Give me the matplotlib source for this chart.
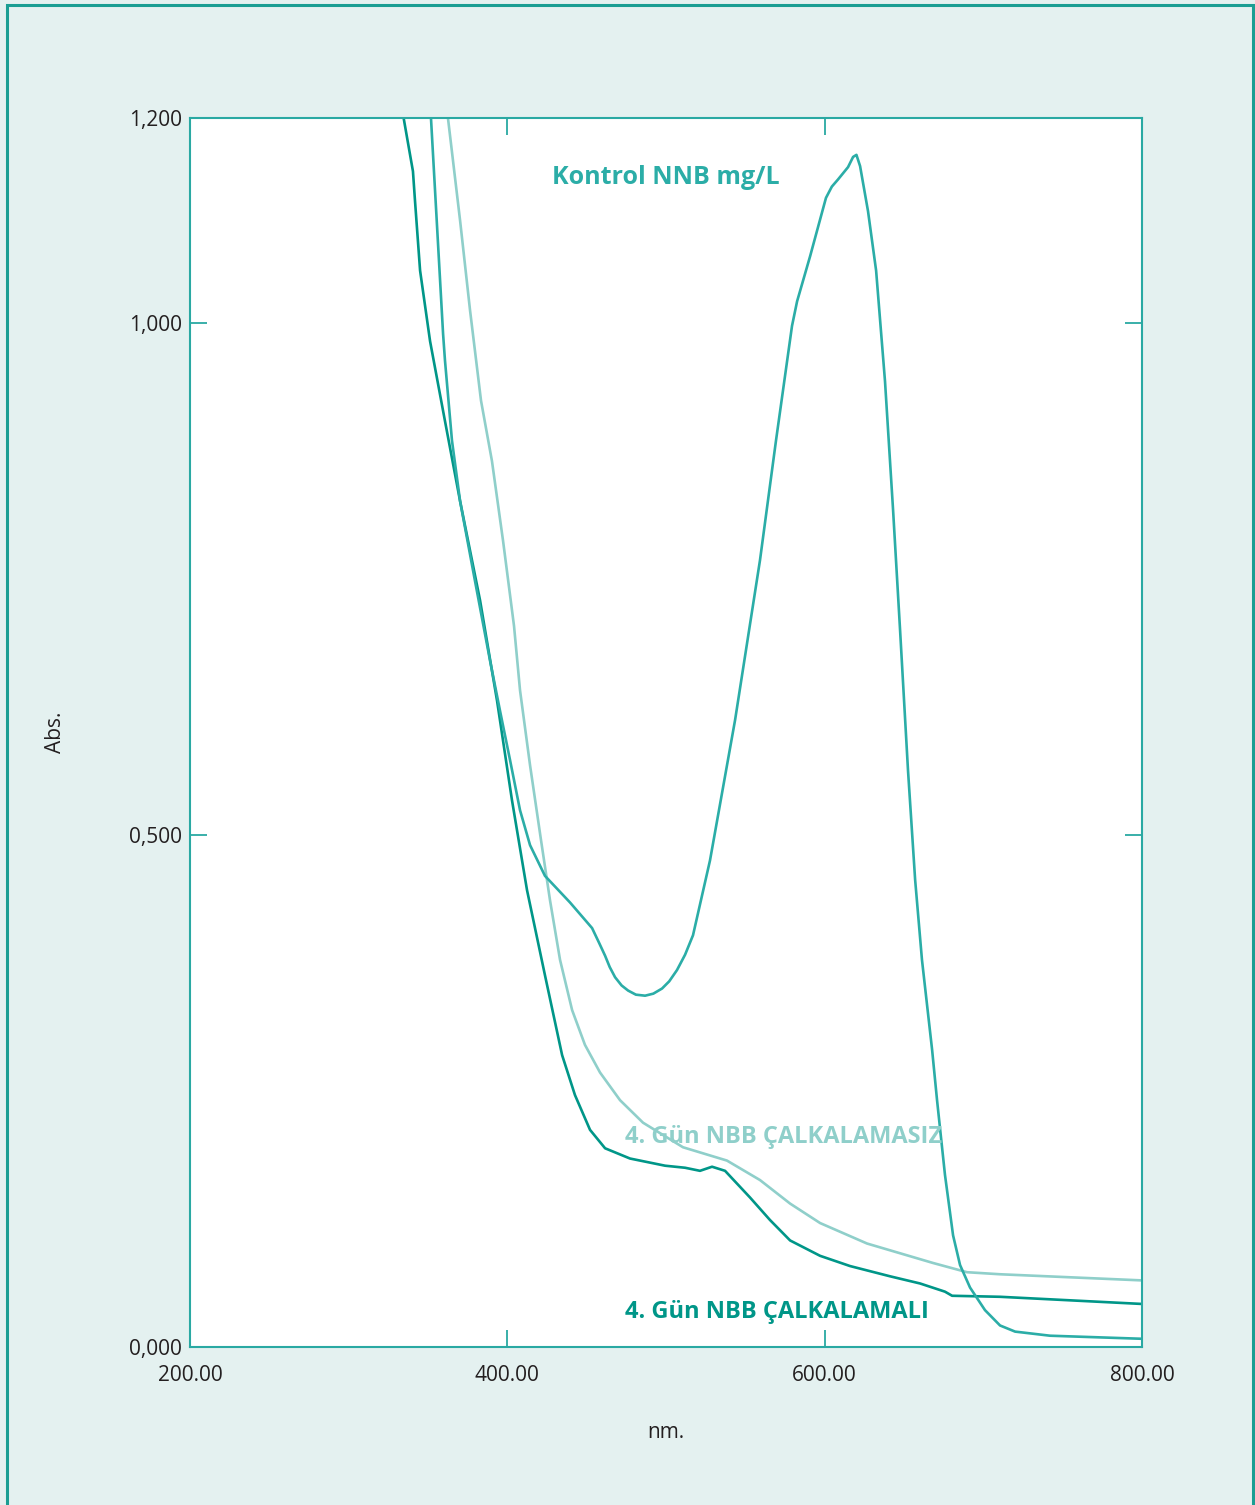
import matplotlib

matplotlib.use("agg")
import matplotlib.pyplot as plt
from matplotlib.patches import Rectangle

plt.rcParams.update({
    "font.family": ["Open Sans", "DejaVu Sans"],
    "font.size": 14,
})

BG = "#E4F1F0"
FRAME = "#1A9E93"
SPINE = "#2AA9A3"
C_KONTROL = "#2BADA7"
C_MALI = "#009688"
C_MASIZ = "#8FCFCA"
INK = "#231F20"

kontrol_nm = [351.5, 359.5, 360.7, 365.1, 370.2, 379.6, 389.1, 395.4, 401.7, 408.0,
              414.3, 423.7, 439.5, 453.4, 458.0, 461.6, 464.5, 467.9, 472.0, 476.1,
              481.0, 486.8, 492.0, 497.5, 502.0, 506.9, 512.0, 517.0, 527.7, 543.5,
              559.2, 569.3, 579.4, 582.6, 590.8, 600.8, 604.5, 608.4, 614.7, 617.9,
              620.0, 622.3, 627.3, 632.4, 638.0, 643.1, 647.5, 652.5, 657.0, 661.3,
              667.7, 670.8, 675.8, 680.9, 685.3, 691.6, 701.0, 710.5, 720.0, 742.0,
              800.0]
kontrol_abs = [1.210, 0.989, 0.963, 0.885, 0.826, 0.748, 0.670, 0.621, 0.573, 0.524,
               0.490, 0.460, 0.434, 0.409, 0.394, 0.382, 0.371, 0.361, 0.353, 0.348,
               0.344, 0.343, 0.345, 0.350, 0.357, 0.368, 0.383, 0.402, 0.475, 0.612,
               0.768, 0.885, 0.997, 1.021, 1.065, 1.122, 1.133, 1.140, 1.152, 1.162,
               1.164, 1.153, 1.109, 1.051, 0.943, 0.817, 0.700, 0.563, 0.456, 0.378,
               0.290, 0.241, 0.168, 0.109, 0.080, 0.058, 0.036, 0.021, 0.015, 0.011,
               0.008]

mali_nm = [333.5, 340.5, 341.8, 345.0, 351.3, 360.7, 370.2, 382.8, 393.5, 402.9,
           412.4, 423.7, 434.5, 442.6, 452.1, 461.6, 477.3, 499.4, 512.0, 521.4,
           529.0, 537.2, 552.9, 565.5, 578.2, 597.1, 616.0, 641.2, 660.1, 675.8,
           680.3, 710.5, 800.0]
mali_abs = [1.210, 1.148, 1.119, 1.051, 0.982, 0.904, 0.826, 0.729, 0.631, 0.534,
            0.446, 0.363, 0.285, 0.246, 0.212, 0.194, 0.184, 0.177, 0.175, 0.172,
            0.176, 0.172, 0.146, 0.124, 0.104, 0.089, 0.079, 0.069, 0.062, 0.054,
            0.050, 0.049, 0.042]

masiz_nm = [361.8, 370.2, 376.5, 383.4, 390.3, 397.3, 404.2, 408.0, 414.3, 421.2,
            426.9, 433.2, 440.8, 448.9, 458.4, 471.0, 485.5, 510.7, 538.4, 559.2,
            578.2, 597.1, 626.7, 668.3, 689.7, 710.5, 800.0]
masiz_abs = [1.210, 1.100, 1.012, 0.924, 0.865, 0.787, 0.704, 0.641, 0.568, 0.495,
             0.436, 0.378, 0.329, 0.295, 0.268, 0.241, 0.219, 0.195, 0.182, 0.163,
             0.140, 0.121, 0.101, 0.082, 0.073, 0.071, 0.065]

x_ticks = [200, 400, 600, 800]
x_labels = ["200.00", "400.00", "600.00", "800.00"]
y_ticks = [0.0, 0.5, 1.0, 1.2]
y_labels = ["0,000", "0,500", "1,000", "1,200"]

fig = plt.figure(figsize=(12.55, 15.05), dpi=100, facecolor=BG)
ax = fig.add_axes([0.1514, 0.1050, 0.7586, 0.8166])
ax.set_facecolor("white")

# outer frame (open at the bottom, runs off the page)
fig.patches.append(Rectangle((0.0056, -0.05), 0.9928, 1.0467, transform=fig.transFigure,
                             fill=False, edgecolor=FRAME, linewidth=2.2))

ax.plot(masiz_nm, masiz_abs, color=C_MASIZ, lw=1.9, solid_joinstyle="round")
ax.plot(mali_nm, mali_abs, color=C_MALI, lw=1.9, solid_joinstyle="round")
ax.plot(kontrol_nm, kontrol_abs, color=C_KONTROL, lw=1.9, solid_joinstyle="round")

ax.set_xlim(200, 800)
ax.set_ylim(0, 1.2)
ax.set_xticks(x_ticks)
ax.set_xticklabels(x_labels, fontsize=15, color=INK)
ax.set_yticks(y_ticks)
ax.set_yticklabels(y_labels, fontsize=15, color=INK)
ax.tick_params(direction="in", length=12, width=1.3, color=SPINE,
               top=True, right=True)
ax.tick_params(axis="x", pad=13)
ax.tick_params(axis="y", pad=6)
for lab in ax.get_yticklabels():
    lab.set_va("center_baseline")
for sp in ax.spines.values():
    sp.set_color(SPINE)
    sp.set_linewidth(1.5)

ax.set_xlabel("nm.", fontsize=15, color=INK, labelpad=26)
ax.set_ylabel("Abs.", fontsize=15, color=INK, labelpad=45)

ax.text(428.2, 1.142, "Kontrol NNB mg/L", fontsize=18, fontweight="bold",
        color=C_KONTROL, ha="left", va="center")
ax.text(474.2, 0.205, "4. Gün NBB ÇALKALAMASIZ", fontsize=17, fontweight="bold",
        color=C_MASIZ, ha="left", va="center")
ax.text(474.2, 0.034, "4. Gün NBB ÇALKALAMALI", fontsize=17, fontweight="bold",
        color=C_MALI, ha="left", va="center")

fig.savefig("out.png", dpi=100, facecolor=BG)
